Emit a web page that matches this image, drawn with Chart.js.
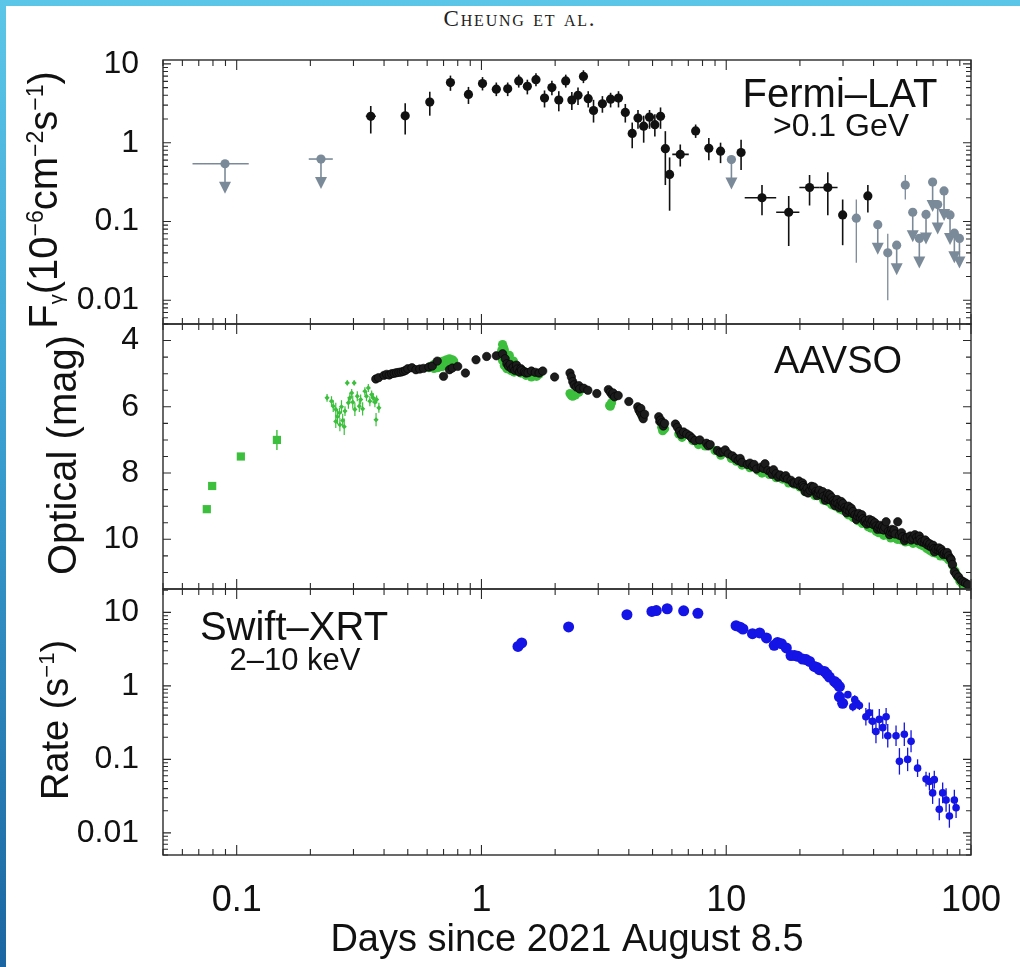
<!DOCTYPE html>
<html>
<head>
<meta charset="utf-8">
<script src="https://cdn.jsdelivr.net/npm/chart.js@4.4.1/dist/chart.umd.min.js"></script>
<style>
html, body { margin: 0; padding: 0; }
body { width: 1020px; height: 967px; overflow: hidden; position: relative;
  background: linear-gradient(to bottom, #5cc6e8 0%, #3a9fd0 45%, #1b66a2 100%); }
#sheet { position: absolute; left: 6px; top: 6px; right: 0; bottom: 0; background: #fff; }
#head { position: absolute; left: 0; width: 1040px; top: 8px; line-height: 22px; text-align: center;
  font-family: "Liberation Serif", "Times New Roman", serif; font-variant: small-caps;
  font-size: 23px; letter-spacing: 1.8px; color: #222; }
canvas { position: absolute; left: 0; top: 0; }
</style>
</head>
<body>
<div id="sheet"></div>
<div id="head">Cheung et al.</div>
<canvas id="lat" width="1020" height="967"></canvas>
<canvas id="opt" width="1020" height="967"></canvas>
<canvas id="xrt" width="1020" height="967"></canvas>
<script>
// tick labels
var xTicks = [0.1, 1, 10, 100];
var latTicks = [0.01, 0.1, 1, 10];
var magTicks = [4, 6, 8, 10];
var xrtTicks = [0.01, 0.1, 1, 10];

// Fermi-LAT >0.1 GeV detections: [day, flux, fluxLo, fluxHi, dayLo, dayHi]
var latDet = [
  [0.353, 2.16, 1.31, 2.93, 0.337, 0.37], [0.488, 2.19, 1.27, 3.16], [0.615, 3.28, 2.2, 4.43],
  [0.747, 5.79, 4.55, 7.1], [0.885, 4.1, 3.1, 5.1], [1.01, 5.62, 4.6, 6.8], [1.15, 4.77, 3.9, 5.8],
  [1.28, 4.83, 3.9, 5.8], [1.42, 6.08, 5.0, 7.3], [1.54, 5.2, 4.1, 6.3], [1.67, 6.31, 5.2, 7.6],
  [1.81, 3.68, 2.8, 4.6], [1.94, 5.01, 4.0, 6.1], [2.07, 3.48, 2.5, 4.5], [2.21, 6.08, 5.0, 7.3],
  [2.34, 3.48, 2.6, 4.4], [2.48, 4.0, 3.0, 5.0], [2.61, 6.94, 5.7, 8.3], [2.73, 3.62, 2.8, 4.5],
  [2.87, 2.56, 1.8, 3.5], [3.12, 3.12, 2.4, 3.9], [3.37, 3.57, 2.8, 4.3], [3.63, 3.68, 2.8, 4.5],
  [3.87, 2.42, 1.8, 3.1], [4.13, 1.31, 0.85, 1.8], [4.36, 2.05, 1.5, 2.6], [4.6, 1.62, 1.0, 2.2],
  [4.86, 2.11, 1.5, 2.6], [5.11, 1.69, 1.2, 2.3], [5.39, 2.16, 1.5, 2.8], [5.64, 0.84, 0.29, 1.4],
  [5.87, 0.395, 0.137, 0.65], [6.49, 0.71, 0.5, 0.95, 6.02, 7.03], [7.5, 1.41, 1.15, 1.7],
  [8.49, 0.85, 0.6, 1.15], [9.48, 0.78, 0.55, 1.0], [11.5, 0.75, 0.45, 1.09],
  [14.0, 0.2, 0.12, 0.29, 11.9, 16.0], [18.0, 0.131, 0.049, 0.21, 16.0, 19.9],
  [21.9, 0.27, 0.16, 0.39, 19.9, 24.0], [26.0, 0.27, 0.12, 0.42, 24.0, 28.5],
  [29.9, 0.121, 0.05, 0.19], [37.9, 0.211, 0.13, 0.29]
];
// low-significance detections (grey)
var latWeak = [[34.0, 0.11, 0.03, 0.19], [45.7, 0.04, 0.01, 0.07], [53.9, 0.29, 0.19, 0.39]];
// upper limits: [day, flux, dayLo, dayHi]
var latUL = [
  [0.0896, 0.54, 0.066, 0.112], [0.221, 0.62, 0.197, 0.247], [10.5, 0.61], [41.6, 0.091],
  [49.7, 0.05], [57.8, 0.131], [61.5, 0.061], [65.5, 0.123], [69.7, 0.316], [73.1, 0.164],
  [77.6, 0.244], [82.1, 0.121], [85.5, 0.071], [89.7, 0.061]
];

// AAVSO optical: [day, mag]
var optBlack = [
  [0.37, 5.16], [0.38, 5.12], [0.40, 5.05], [0.41, 5.02], [0.42, 5.04], [0.43, 5.0], [0.44, 4.99],
  [0.45, 4.97], [0.46, 4.96], [0.47, 4.95], [0.48, 4.93], [0.49, 4.9], [0.50, 4.85], [0.52, 4.82],
  [0.54, 4.88], [0.56, 4.86], [0.58, 4.84], [0.61, 4.8], [0.63, 4.77], [0.66, 4.62], [0.70, 5.08],
  [0.74, 4.88], [0.76, 4.83], [0.80, 4.78], [0.86, 4.98], [0.95, 4.58], [1.05, 4.48], [1.15, 4.46],
  [1.22, 4.4], [1.25, 4.55], [1.27, 4.7], [1.29, 4.78], [1.31, 4.72], [1.33, 4.85], [1.35, 4.8],
  [1.37, 4.9], [1.39, 4.74], [1.40, 4.86], [1.43, 4.95], [1.45, 4.85], [1.46, 4.9], [1.50, 4.94],
  [1.52, 4.98], [1.55, 4.97], [1.60, 4.92], [1.66, 4.96], [1.72, 4.98], [1.78, 4.92], [1.99, 5.1],
  [2.30, 4.98], [2.33, 5.1], [2.36, 5.24], [2.39, 5.34], [2.44, 5.4], [2.50, 5.36], [2.52, 5.46],
  [2.62, 5.44], [2.72, 5.5], [2.96, 5.6], [3.30, 5.48], [3.36, 5.56], [3.42, 5.64], [3.45, 5.58],
  [3.50, 5.7], [3.62, 5.66], [4.00, 5.84], [4.35, 6.0], [4.40, 6.1], [4.46, 6.18], [4.48, 6.05],
  [4.52, 6.26], [4.58, 6.36], [4.64, 6.22], [5.30, 6.3], [5.35, 6.44], [5.40, 6.4], [5.47, 6.48],
  [5.53, 6.58], [5.60, 6.5], [6.20, 6.52], [6.32, 6.62], [6.45, 6.74], [6.55, 6.84], [6.70, 6.76],
  [6.90, 6.82], [7.10, 6.88], [7.25, 6.95], [7.45, 7.02], [7.80, 7.0], [8.30, 7.1], [8.45, 7.18],
  [8.60, 7.14], [9.20, 7.32], [9.45, 7.38], [9.70, 7.36], [9.90, 7.3], [10.2, 7.42], [10.6, 7.48],
  [10.9, 7.56], [11.2, 7.62], [11.4, 7.56], [11.6, 7.68], [12.2, 7.74], [12.5, 7.7], [12.8, 7.8],
  [13.0, 7.74], [13.3, 7.88], [13.9, 7.82], [14.2, 7.86], [14.4, 7.72], [14.8, 7.92], [15.2, 7.96],
  [15.4, 8.04], [15.6, 7.9], [16.0, 8.02], [16.3, 8.12], [16.6, 8.06], [17.2, 8.14], [17.5, 8.08],
  [17.8, 8.18], [18.4, 8.22], [18.7, 8.3], [19.0, 8.3], [19.6, 8.34], [19.8, 8.24], [20.2, 8.4],
  [20.5, 8.3], [20.6, 8.38], [20.8, 8.44], [21.0, 8.56], [21.4, 8.46], [21.6, 8.6], [22.0, 8.52],
  [22.3, 8.4], [22.6, 8.48], [22.8, 8.42], [23.2, 8.56], [23.4, 8.62], [23.5, 8.68], [23.8, 8.6],
  [24.0, 8.52], [24.4, 8.64], [24.8, 8.56], [25.0, 8.7], [25.4, 8.82], [25.6, 8.74], [26.0, 8.62],
  [26.2, 8.78], [26.5, 8.66], [26.8, 8.82], [27.0, 8.74], [27.4, 8.84], [27.6, 8.92], [27.8, 8.98],
  [28.0, 8.88], [28.4, 8.8], [28.6, 8.92], [29.0, 9.04], [29.2, 8.96], [29.5, 8.86], [29.8, 9.0],
  [30.0, 8.92], [30.5, 9.04], [30.8, 9.12], [31.0, 9.2], [31.2, 9.1], [31.6, 9.0], [32.0, 9.16],
  [32.4, 9.06], [32.8, 9.22], [33.0, 9.16], [33.6, 9.26], [34.0, 9.4], [34.4, 9.3], [34.8, 9.22],
  [35.3, 9.34], [35.8, 9.26], [36.2, 9.38], [36.6, 9.46], [37.1, 9.42], [37.5, 9.54], [38.0, 9.48],
  [38.5, 9.4], [39.0, 9.52], [39.5, 9.44], [40.0, 9.56], [40.5, 9.5], [41.0, 9.6], [41.5, 9.7],
  [42.0, 9.64], [42.5, 9.58], [43.0, 9.7], [43.5, 9.62], [44.0, 9.72], [44.5, 9.64], [45.0, 9.47],
  [46.0, 9.76], [46.5, 9.86], [47.0, 9.78], [47.5, 9.7], [48.0, 9.8], [48.5, 9.72], [49.0, 9.84],
  [50.2, 9.47], [51.0, 9.88], [52.0, 9.8], [52.5, 9.92], [53.5, 10.04], [54.0, 9.96], [55.0, 9.94],
  [56.5, 9.9], [57.0, 10.02], [58.0, 9.96], [59.0, 9.86], [60.0, 9.94], [60.5, 10.04], [61.5, 9.9],
  [62.0, 10.0], [63.0, 10.08], [64.5, 10.1], [65.0, 10.02], [66.0, 10.16], [66.5, 10.1], [67.5, 10.2],
  [68.0, 10.14], [69.0, 10.24], [70.0, 10.18], [70.5, 10.28], [71.0, 10.38], [72.0, 10.3], [73.5, 10.33],
  [74.0, 10.26], [75.0, 10.36], [75.5, 10.3], [76.5, 10.38], [77.0, 10.46], [78.0, 10.42], [79.5, 10.46],
  [80.0, 10.4], [81.0, 10.5], [82.5, 10.58], [83.0, 10.62], [84.0, 10.76], [85.5, 10.98], [87.0, 11.06],
  [89.0, 11.14], [91.0, 11.24], [93.0, 11.28], [95.0, 11.32], [97.0, 11.36]
];
var optGreen = [
  [0.61, 4.82], [0.62, 4.78], [0.63, 4.8], [0.64, 4.72], [0.64, 4.84], [0.65, 4.76], [0.66, 4.82],
  [0.66, 4.7], [0.67, 4.74], [0.67, 4.8], [0.68, 4.7], [0.68, 4.64], [0.69, 4.78], [0.70, 4.72],
  [0.70, 4.62], [0.70, 4.76], [0.71, 4.68], [0.72, 4.66], [0.72, 4.58], [0.73, 4.64], [0.73, 4.7],
  [0.74, 4.62], [0.74, 4.55], [0.75, 4.6], [0.76, 4.58], [0.76, 4.66], [0.77, 4.62],
  [1.21, 4.3], [1.22, 4.12], [1.22, 4.6], [1.23, 4.2], [1.23, 4.45], [1.24, 4.28], [1.24, 4.75],
  [1.25, 4.4], [1.25, 4.62], [1.26, 4.55], [1.27, 4.68], [1.27, 4.85], [1.28, 4.5], [1.29, 4.56],
  [1.30, 4.62], [1.30, 4.45], [1.32, 4.7], [1.32, 4.9], [1.34, 4.8], [1.35, 4.62], [1.36, 4.95],
  [1.38, 4.85], [1.42, 4.88], [1.45, 4.98], [1.48, 4.92], [1.52, 5.05], [1.55, 4.98], [1.60, 5.02],
  [1.60, 5.1], [1.65, 5.05], [1.68, 5.08], [1.72, 5.02],
  [2.30, 5.6], [2.33, 5.66], [2.36, 5.68], [2.42, 5.64], [2.50, 5.56], [3.34, 5.96], [3.36, 5.98],
  [3.40, 5.88], [4.45, 6.16], [4.55, 6.3], [4.60, 6.24], [5.45, 6.62], [5.50, 6.72], [5.60, 6.66],
  [6.40, 6.82], [6.60, 6.92], [7.3, 7.02], [7.7, 7.14], [8.2, 7.18], [9.0, 7.32], [9.5, 7.46],
  [10.5, 7.56], [11.0, 7.64], [11.6, 7.76], [12.5, 7.84], [13.5, 7.92], [14.0, 8.0], [15.0, 8.04],
  [16.0, 8.14], [17.0, 8.18], [18.0, 8.3], [19.0, 8.34], [20.0, 8.42], [21.0, 8.56], [22.0, 8.56],
  [23.0, 8.68], [24.0, 8.68], [25.0, 8.82], [26.0, 8.86], [27.0, 8.96], [28.0, 9.0], [29.0, 9.08],
  [30.0, 9.12], [31.5, 9.26], [33.0, 9.34], [34.5, 9.44], [36.0, 9.52], [38.0, 9.62], [39.0, 9.66],
  [41.0, 9.76], [42.0, 9.8], [44.0, 9.88], [45.0, 9.86], [47.0, 9.96], [48.0, 9.94], [50.0, 10.0],
  [52.0, 10.02], [54.0, 10.08], [56.0, 10.06], [58.0, 10.12], [60.0, 10.1], [62.0, 10.16], [64.0, 10.2],
  [66.0, 10.28], [68.0, 10.34], [70.0, 10.4], [72.0, 10.42], [75.0, 10.5], [78.0, 10.52],
  [81.0, 10.62], [84.0, 10.78], [86.0, 10.96], [88.0, 11.12], [90.0, 11.26], [92.0, 11.34],
  [94.0, 11.42], [96.0, 11.46], [98.0, 11.48], [99.0, 11.49]
];
// early green photometry: [day, mag, err]
var optSquares = [[0.0755, 9.09, 0], [0.0794, 8.39, 0], [0.104, 7.5, 0], [0.146, 7.0, 0.3]];
var optEarly = [
  [0.234, 5.73, 0.12], [0.244, 5.83, 0.15], [0.248, 5.98, 0.18], [0.254, 6.08, 0.2], [0.258, 6.3, 0.22],
  [0.263, 6.18, 0.15], [0.268, 6.0, 0.2], [0.271, 6.41, 0.2], [0.275, 6.6, 0.25], [0.277, 6.13, 0.15],
  [0.283, 5.28, 0.08], [0.286, 5.88, 0.18], [0.29, 5.73, 0.15], [0.295, 5.58, 0.12], [0.298, 5.86, 0.2],
  [0.302, 5.28, 0.08], [0.304, 6.08, 0.2], [0.311, 5.68, 0.15], [0.317, 5.98, 0.18], [0.321, 5.78, 0.15],
  [0.327, 6.06, 0.2], [0.334, 5.53, 0.12], [0.339, 5.68, 0.15], [0.345, 5.43, 0.12], [0.35, 5.83, 0.15],
  [0.356, 5.63, 0.12], [0.361, 5.73, 0.15], [0.367, 5.86, 0.15], [0.373, 5.78, 0.12], [0.381, 6.03, 0.15],
  [0.371, 6.39, 0.2], [0.254, 6.44, 0.2], [0.264, 6.54, 0.2]
];

// Swift-XRT 2-10 keV: [day, rate, err (dex)]
var xrtRate = [
  [1.41, 3.44, 0], [1.46, 3.84, 0], [2.27, 6.33, 0], [3.93, 9.3, 0], [4.97, 10.3, 0], [5.18, 10.6, 0],
  [5.74, 11.2, 0], [6.7, 10.5, 0], [7.66, 9.7, 0], [10.97, 6.59, 0], [11.4, 6.3, 0], [11.7, 5.94, 0],
  [12.8, 5.13, 0], [13.7, 5.25, 0], [14.6, 4.49, 0], [15.7, 3.56, 0], [16.2, 3.9, 0], [16.8, 3.75, 0],
  [17.6, 3.28, 0], [18.4, 2.58, 0], [19.0, 2.6, 0], [19.6, 2.52, 0], [20.5, 2.32, 0], [21.2, 2.28, 0],
  [21.9, 2.15, 0], [22.9, 1.84, 0], [23.5, 1.78, 0], [24.0, 1.66, 0], [25.2, 1.57, 0.02], [25.8, 1.45, 0.02],
  [26.4, 1.32, 0.03], [27.7, 1.15, 0.03], [28.3, 1.08, 0.03], [29.0, 0.98, 0.04], [29.0, 0.71, 0.05],
  [29.9, 0.58, 0.05], [31.4, 0.76, 0.05], [32.9, 0.52, 0.06], [33.5, 0.65, 0.06], [34.2, 0.58, 0.06],
  [35.0, 0.54, 0.06], [37.2, 0.38, 0.12], [38.4, 0.43, 0.14], [39.6, 0.33, 0.16], [40.9, 0.24, 0.16],
  [42.2, 0.35, 0.14], [43.6, 0.27, 0.15], [45.0, 0.38, 0.12], [45.7, 0.21, 0.16], [49.4, 0.21, 0.14],
  [51.0, 0.094, 0.18], [53.4, 0.22, 0.16], [55.1, 0.1, 0.16], [56.9, 0.176, 0.15], [60.5, 0.076, 0.12],
  [65.5, 0.054, 0.1], [67.6, 0.05, 0.12], [69.7, 0.035, 0.15], [70.8, 0.053, 0.12], [74.2, 0.021, 0.15],
  [76.6, 0.035, 0.14], [79.1, 0.028, 0.16], [81.6, 0.017, 0.16], [85.5, 0.028, 0.14], [86.9, 0.022, 0.14]
];

var FONT = '"Liberation Sans", Arial, Helvetica, sans-serif';
var INK = '#111';
var GREY = '#7b8a99';
var GREEN = '#3cbf3c';
var BLUE = '#1414e6';

function logMarks(lo, hi) {
  var out = [];
  for (var e = Math.floor(Math.log10(lo)); e <= Math.ceil(Math.log10(hi)); e++) {
    for (var k = 1; k < 10; k++) {
      var v = k * Math.pow(10, e);
      if (v >= lo * 0.999 && v <= hi * 1.001) out.push({ v: v, major: k === 1 });
    }
  }
  return out;
}
function magMarks() {
  var out = [];
  for (var v = 4; v <= 11; v += 0.5) out.push({ v: v, major: v % 2 === 0 });
  return out;
}

// error bars and upper-limit arrows, drawn under the markers
var errorBars = {
  id: 'errorBars',
  beforeDatasetsDraw: function(chart) {
    var ctx = chart.ctx, xs = chart.scales.x, ys = chart.scales.y;
    ctx.save();
    chart.data.datasets.forEach(function(ds) {
      if (!ds.errColor) return;
      ctx.strokeStyle = ds.errColor;
      ctx.fillStyle = ds.errColor;
      ctx.lineWidth = ds.errWidth || 1.2;
      ds.data.forEach(function(d) {
        var px = xs.getPixelForValue(d.x), py = ys.getPixelForValue(d.y);
        ctx.beginPath();
        if (d.yLo != null) { ctx.moveTo(px, ys.getPixelForValue(d.yLo)); ctx.lineTo(px, ys.getPixelForValue(d.yHi)); }
        if (d.xLo != null) { ctx.moveTo(xs.getPixelForValue(d.xLo), py); ctx.lineTo(xs.getPixelForValue(d.xHi), py); }
        ctx.stroke();
        if (ds.upperLimit) {
          ctx.beginPath(); ctx.moveTo(px, py); ctx.lineTo(px, py + 19); ctx.stroke();
          ctx.beginPath();
          ctx.moveTo(px - 6, py + 18); ctx.lineTo(px + 6, py + 18); ctx.lineTo(px, py + 30);
          ctx.closePath(); ctx.fill();
        }
      });
    });
    ctx.restore();
  }
};

function drawTitle(ctx, t) {
  var small = Math.round(t.size * 0.58);
  function fontOf(p) { return (p[1] ? (p[1] < 0 ? t.subSize : small) : t.size) + 'px ' + FONT; }
  var total = 0;
  t.parts.forEach(function(p) { ctx.font = fontOf(p); total += ctx.measureText(p[0]).width; });
  ctx.save();
  ctx.translate(t.x, t.y);
  ctx.rotate(-Math.PI / 2);
  ctx.fillStyle = INK;
  ctx.textAlign = 'left';
  ctx.textBaseline = 'alphabetic';
  var cx = -total / 2;
  t.parts.forEach(function(p) {
    ctx.font = fontOf(p);
    var dy = p[1] > 0 ? -t.size * 0.36 : (p[1] < 0 ? t.size * 0.16 : 0);
    ctx.fillText(p[0], cx, dy);
    cx += ctx.measureText(p[0]).width;
  });
  ctx.restore();
}

// box, inward ticks on all sides, panel labels and y title
var frame = {
  id: 'frame',
  afterDraw: function(chart, args, o) {
    var ctx = chart.ctx, a = chart.chartArea, xs = chart.scales.x, ys = chart.scales.y;
    ctx.save();
    ctx.strokeStyle = '#2a2a2a';
    ctx.lineWidth = 1.4;
    ctx.strokeRect(a.left, a.top, a.right - a.left, a.bottom - a.top);
    ctx.lineWidth = 1.1;
    ctx.beginPath();
    logMarks(xs.min, xs.max).forEach(function(m) {
      var p = xs.getPixelForValue(m.v), len = m.major ? 10 : 6;
      ctx.moveTo(p, a.top); ctx.lineTo(p, a.top + len);
      ctx.moveTo(p, a.bottom); ctx.lineTo(p, a.bottom - len);
    });
    (o.mag ? magMarks() : logMarks(ys.min, ys.max)).forEach(function(m) {
      var p = ys.getPixelForValue(m.v), len = m.major ? 8 : 5;
      ctx.moveTo(a.left, p); ctx.lineTo(a.left + len, p);
      ctx.moveTo(a.right, p); ctx.lineTo(a.right - len, p);
    });
    ctx.stroke();
    ctx.fillStyle = INK;
    ctx.textAlign = 'center';
    ctx.textBaseline = 'alphabetic';
    (o.labels || []).forEach(function(l) {
      ctx.font = l.size + 'px ' + FONT;
      ctx.fillText(l.text, l.x, l.y);
    });
    ctx.restore();
    if (o.title) drawTitle(ctx, o.title);
  }
};

function xScale(show) {
  var s = {
    type: 'logarithmic', min: 0.05, max: 100, display: show,
    grid: { display: false }, border: { display: false }
  };
  if (show) {
    s.afterBuildTicks = function(sc) { sc.ticks = xTicks.map(function(v) { return { value: v }; }); };
    s.afterFit = function(sc) { sc.height = 112; };
    s.ticks = { font: { family: FONT, size: 36 }, color: INK, padding: 16, maxRotation: 0, autoSkip: false,
      callback: function(v) { return String(v); } };
    s.title = { display: true, text: 'Days since 2021 August 8.5', color: INK,
      font: { family: FONT, size: 38 }, padding: { top: 0, bottom: 4 } };
  }
  return s;
}

function yScale(type, min, max, ticks, reverse) {
  return {
    type: type, min: min, max: max, reverse: !!reverse,
    grid: { display: false }, border: { display: false },
    afterBuildTicks: function(sc) { sc.ticks = ticks.map(function(v) { return { value: v }; }); },
    afterFit: function(sc) { sc.width = 100; },
    ticks: { font: { family: FONT, size: 32 }, color: INK, padding: 16, autoSkip: false,
      callback: function(v) { return String(v); } }
  };
}

function options(pad, x, y, frameOpts) {
  return {
    responsive: false, animation: false, events: [],
    layout: { padding: pad },
    plugins: { legend: { display: false }, tooltip: { enabled: false }, frame: frameOpts },
    scales: { x: x, y: y }
  };
}

function scatter(data, color, radius, extra) {
  var ds = { type: 'scatter', data: data, pointRadius: radius, pointBackgroundColor: color,
    pointBorderColor: color, pointBorderWidth: 0, showLine: false };
  for (var k in extra) ds[k] = extra[k];
  return ds;
}

// panel 1: Fermi-LAT
new Chart(document.getElementById('lat'), {
  type: 'scatter',
  data: { datasets: [
    scatter(latDet.map(function(r) { return { x: r[0], y: r[1], yLo: r[2], yHi: r[3], xLo: r[4], xHi: r[5] }; }),
      INK, 4.6, { errColor: INK, errWidth: 1.6 }),
    scatter(latWeak.map(function(r) { return { x: r[0], y: r[1], yLo: r[2], yHi: r[3] }; }),
      GREY, 4.6, { errColor: GREY, errWidth: 1.3 }),
    scatter(latUL.map(function(r) { return { x: r[0], y: r[1], xLo: r[2], xHi: r[3] }; }),
      GREY, 4.6, { errColor: GREY, errWidth: 1.6, upperLimit: true })
  ] },
  options: options({ top: 60, bottom: 643, left: 63, right: 49 }, xScale(false),
    yScale('logarithmic', 0.005, 11.2, latTicks), {
      labels: [{ text: 'Fermi\u2013LAT', x: 840, y: 107, size: 40 }, { text: '>0.1 GeV', x: 841, y: 136, size: 32 }],
      title: { x: 57, y: 200, size: 40, subSize: 20, parts: [['F', 0], ['\u03b3', -1], ['(10', 0], ['\u22126', 1],
        ['cm', 0], ['\u22122', 1], ['s', 0], ['\u22121', 1], [')', 0]] }
    }),
  plugins: [errorBars, frame]
});

// panel 2: AAVSO optical
new Chart(document.getElementById('opt'), {
  type: 'scatter',
  data: { datasets: [
    scatter(optBlack.map(function(r) { return { x: r[0], y: r[1] }; }), '#1c1c1c', 4.2,
      { pointBorderColor: '#000', pointBorderWidth: 0.6 }),
    scatter(optGreen.map(function(r) { return { x: r[0], y: r[1] }; }), GREEN, 4.6, {}),
    scatter(optSquares.map(function(r) { return { x: r[0], y: r[1], yLo: r[1] - r[2], yHi: r[1] + r[2] }; }),
      GREEN, 5.8, { pointStyle: 'rect', errColor: GREEN, errWidth: 1.4 }),
    scatter(optEarly.map(function(r) { return { x: r[0], y: r[1], yLo: r[1] - r[2], yHi: r[1] + r[2] }; }),
      GREEN, 2.6, { pointStyle: 'rectRot', errColor: GREEN, errWidth: 1.2 })
  ] },
  options: options({ top: 324, bottom: 378, left: 63, right: 49 }, xScale(false),
    yScale('linear', 3.5, 11.5, magTicks, true), {
      mag: true,
      labels: [{ text: 'AAVSO', x: 838, y: 373, size: 38 }],
      title: { x: 76, y: 455, size: 40, subSize: 20, parts: [['Optical (mag)', 0]] }
    }),
  plugins: [errorBars, frame]
});

// panel 3: Swift-XRT
new Chart(document.getElementById('xrt'), {
  type: 'scatter',
  data: { datasets: [
    scatter(xrtRate.map(function(r) {
      var f = Math.pow(10, r[2]);
      return { x: r[0], y: r[1], yLo: r[1] / f, yHi: r[1] * f };
    }), BLUE, function(c) { return c.raw && c.raw.x > 30 ? 3.8 : 5.5; }, { errColor: BLUE, errWidth: 1.3 })
  ] },
  options: options({ top: 589, bottom: 0, left: 63, right: 49 }, xScale(true),
    yScale('logarithmic', 0.005, 20.8, xrtTicks), {
      labels: [{ text: 'Swift\u2013XRT', x: 294, y: 640, size: 40 }, { text: '2\u201310 keV', x: 295, y: 670, size: 31 }],
      title: { x: 68, y: 720, size: 38, subSize: 20, parts: [['Rate (s', 0], ['\u22121', 1], [')', 0]] }
    }),
  plugins: [errorBars, frame]
});
</script>
</body>
</html>
